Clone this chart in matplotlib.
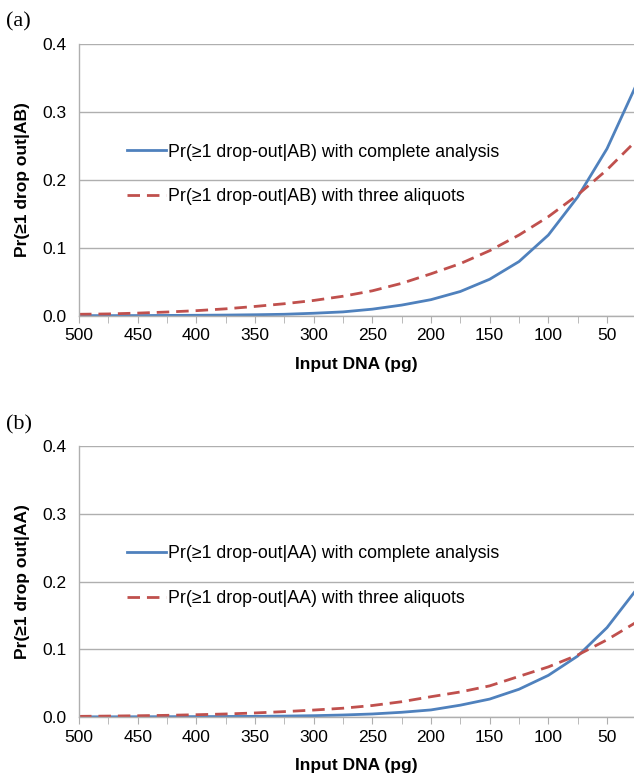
import numpy as np
import matplotlib.pyplot as plt
from matplotlib.ticker import MultipleLocator, FormatStrFormatter

plt.rcParams['font.family'] = ['Liberation Sans', 'DejaVu Sans']

# input DNA amounts (pg)
dna = [500, 475, 450, 425, 400, 375, 350, 325, 300, 275, 250, 225, 200,
       175, 150, 125, 100, 75, 50, 25]

# panel (a) - heterozygote AB
ab_complete = [0.0005, 0.0005, 0.0006, 0.0008, 0.001, 0.0013, 0.0018, 0.0025,
               0.004, 0.006, 0.01, 0.016, 0.024, 0.036, 0.054, 0.08, 0.119,
               0.175, 0.246, 0.34]
ab_three = [0.0025, 0.003, 0.0042, 0.0058, 0.0078, 0.0105, 0.014, 0.018,
            0.0228, 0.029, 0.037, 0.048, 0.062, 0.077, 0.096, 0.119, 0.146,
            0.178, 0.215, 0.258]

# panel (b) - homozygote AA
aa_complete = [0.0003, 0.0003, 0.0004, 0.0005, 0.0006, 0.0008, 0.001, 0.0014,
               0.002, 0.003, 0.0045, 0.007, 0.0105, 0.0175, 0.0265, 0.041,
               0.0615, 0.09, 0.132, 0.188]
aa_three = [0.001, 0.0014, 0.0019, 0.0025, 0.0034, 0.0045, 0.006, 0.008,
            0.0103, 0.013, 0.017, 0.0226, 0.03, 0.037, 0.046, 0.06, 0.074,
            0.0915, 0.114, 0.14]

BLUE = '#4F81BD'
RED = '#C0504D'
GRID = '#AFAFAF'
FS = 12.5


def draw_panel(ax, complete, three, tag):
    ax.plot(dna, complete, color=BLUE, lw=2.0,
            label='Pr(≥1 drop-out|%s) with complete analysis' % tag)
    ax.plot(dna, three, color=RED, lw=2.0, linestyle=(0, (4.5, 2.5)),
            label='Pr(≥1 drop-out|%s) with three aliquots' % tag)
    ax.set_xlim(500, 27)
    ax.set_ylim(0, 0.4)
    ax.xaxis.set_major_locator(MultipleLocator(50))
    ax.xaxis.set_minor_locator(MultipleLocator(25))
    ax.yaxis.set_major_locator(MultipleLocator(0.1))
    ax.yaxis.set_major_formatter(FormatStrFormatter('%.1f'))
    ax.grid(axis='y', color=GRID, lw=1.0)
    ax.set_axisbelow(True)
    for s in ['top', 'right']:
        ax.spines[s].set_visible(False)
    for s in ['left', 'bottom']:
        ax.spines[s].set_color(GRID)
        ax.spines[s].set_linewidth(1.0)
    ax.tick_params(axis='x', which='both', direction='out', length=5,
                   color=GRID, labelsize=FS, pad=4)
    ax.tick_params(axis='y', length=0, labelsize=FS, pad=9)
    ax.set_xlabel('Input DNA (pg)', fontsize=FS, fontweight='bold', labelpad=10)
    ax.set_ylabel('Pr(≥1 drop out|%s)' % tag, fontsize=FS,
                  fontweight='bold', labelpad=9)
    ax.legend(loc='upper left', bbox_to_anchor=(0.086, 0.634), frameon=False,
              fontsize=12.8, handlelength=2.2, handletextpad=0.12,
              labelspacing=1.55, borderpad=0, borderaxespad=0)


fig = plt.figure(figsize=(6.34, 7.75), dpi=100)
ax1 = fig.add_axes([0.1246, 0.5923, 0.8754, 0.351])
ax2 = fig.add_axes([0.1246, 0.0748, 0.8754, 0.3497])

draw_panel(ax1, ab_complete, ab_three, 'AB')
draw_panel(ax2, aa_complete, aa_three, 'AA')

fig.text(0.009, 1 - 22 / 775, '(a)', family='Liberation Serif', fontsize=16,
         va='center')
fig.text(0.009, 1 - 425 / 775, '(b)', family='Liberation Serif', fontsize=16,
         va='center')

fig.savefig('out.png', dpi=100)
